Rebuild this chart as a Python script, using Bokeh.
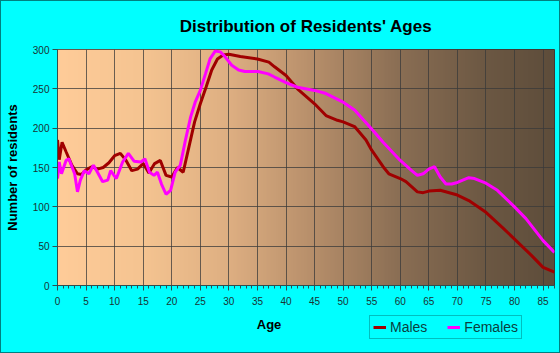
import numpy as np
from bokeh.plotting import figure
from bokeh.layouts import column
from bokeh.models import (Range1d, Legend, LegendItem, SingleIntervalTicker)
from bokeh.core.properties import value
from bokeh.embed import file_html
from bokeh.resources import INLINE

# ---- data ----
male_age = [0, 0.3, 0.8, 1.5, 2.5, 3.5, 4.2, 5, 6, 7, 8, 9, 10, 11, 12, 13, 14, 15, 16, 17, 18, 19, 20,
            21, 22, 23, 24, 25, 26, 27, 28, 29, 30, 32, 35, 37, 38, 40, 42, 45, 47, 49, 50, 52, 54, 55,
            57, 58, 60, 61, 63, 64, 65, 67, 70, 72, 75, 78, 80, 83, 85, 87]
male_val = [185, 160, 182, 170, 153, 142, 141, 147, 151, 148, 150, 156, 165, 168, 159, 146, 148, 155, 143,
            155, 159, 140, 138, 150, 144, 176, 208, 231, 252, 274, 288, 293, 294, 291, 288, 284, 278, 267,
            250, 231, 216, 210, 208, 202, 185, 172, 151, 142, 136, 132, 119, 118, 120, 121, 115, 108, 93,
            73, 59, 38, 23, 17]

female_age = [0, 0.3, 0.7, 1.5, 2, 3, 3.5, 4, 4.7, 5.5, 6.3, 7, 7.9, 8.8, 9.3, 10.3, 11.4, 12.4, 13.4,
              14.6, 15.3, 16.1, 16.9, 17.5, 18.2, 19, 19.8, 20.6, 21.5, 22.4, 23.3, 24.1, 25, 25.9, 26.7,
              27.6, 28.5, 29.3, 30.5, 31.7, 32.8, 35.1, 36.9, 38, 40, 42, 45, 47, 50, 52, 55, 57, 60, 62,
              63, 64, 65, 66, 67, 68, 69, 70, 72, 73, 75, 77, 80, 82, 85, 87]
female_val = [136, 157, 142, 159, 161, 142, 119, 134, 146, 142, 153, 144, 132, 134, 146, 136, 157, 168, 158,
              157, 161, 144, 140, 144, 129, 116, 121, 144, 153, 185, 214, 233, 248, 269, 288, 298, 297, 291,
              280, 274, 272, 272, 269, 265, 258, 252, 248, 244, 233, 223, 199, 182, 159, 146, 140, 142, 148,
              151, 138, 129, 129, 131, 137, 136, 130, 121, 100, 85, 57, 42]

x_ticks = list(range(0, 90, 5))
y_ticks = list(range(0, 350, 50))
title_text = "Distribution of Residents' Ages"
x_label = "Age"
y_label = "Number of residents"
series_names = ["Males", "Females"]
series_colors = ["#A00000", "#FF00FF"]

FONT = "Liberation Sans"
CYAN = "#00FFFF"

p = figure(width=558, height=309, output_backend="svg", toolbar_location=None,
           x_range=Range1d(0, 87), y_range=Range1d(0, 300),
           min_border_left=54, min_border_right=5, min_border_top=48, min_border_bottom=25)
p.background_fill_color = "#FFCC99"
p.border_fill_color = CYAN
p.outline_line_color = "#333333"

p.title.text = title_text
p.title.align = "center"
p.title.text_font = FONT
p.title.text_font_size = "17px"
p.title.text_font_style = "bold"
p.title.text_color = "#000000"
p.title.standoff = 27

# gradient background (style only)
stops_x = [0, 15, 30, 45, 60, 75, 87]
stops_c = np.array([(255, 204, 153), (245, 196, 145), (222, 175, 130), (182, 142, 106),
                    (138, 110, 84), (108, 88, 67), (94, 77, 59)], dtype=float)
N = 348
xs = np.linspace(0, 87, N)
img = np.empty((1, N), dtype=np.uint32)
view = img.view(dtype=np.uint8).reshape((1, N, 4))
for ch in range(3):
    view[0, :, ch] = np.interp(xs, stops_x, stops_c[:, ch]).astype(np.uint8)
view[0, :, 3] = 255
p.image_rgba(image=[img], x=0, y=0, dw=87, dh=300, level="image")

# grid
p.xgrid.ticker = x_ticks
p.ygrid.ticker = y_ticks
for g in (p.xgrid, p.ygrid):
    g.grid_line_color = "#3a3a3a"
    g.grid_line_alpha = 0.75
    g.grid_line_width = 1
    g.level = "underlay"

# axes
p.xaxis.ticker = SingleIntervalTicker(interval=5, num_minor_ticks=5)
p.yaxis.ticker = y_ticks
for ax in (p.xaxis, p.yaxis):
    ax.axis_line_color = "#2F4F4F"
    ax.major_tick_line_color = "#2F4F4F"
    ax.minor_tick_line_color = "#2F4F4F"
    ax.major_label_text_font = FONT
    ax.major_label_text_font_size = "10px"
    ax.major_label_text_color = "#1A3333"
    ax.axis_label_text_font = FONT
    ax.axis_label_text_font_size = "13px"
    ax.axis_label_text_font_style = "bold"
    ax.axis_label_text_color = "#000000"
p.xaxis.major_tick_out = 5
p.xaxis.major_tick_in = 0
p.xaxis.minor_tick_out = 3
p.xaxis.minor_tick_in = 0
p.yaxis.major_tick_out = 5
p.yaxis.major_tick_in = 0
p.yaxis.minor_tick_line_color = None
p.yaxis.axis_label = y_label
p.xaxis.major_label_standoff = 6
p.yaxis.major_label_standoff = 3
p.yaxis.axis_label_standoff = 10

# lines
p.line(male_age, male_val, line_color=series_colors[0], line_width=3)
p.line(female_age, female_val, line_color=series_colors[1], line_width=3)

# bottom strip with axis title and legend (its frame is aligned to the main frame: page x 55..553)
p2 = figure(width=558, height=42, output_backend="svg", toolbar_location=None,
            x_range=Range1d(55, 553), y_range=Range1d(0, 42),
            min_border=0, x_axis_location=None, y_axis_location=None)
p2.background_fill_color = CYAN
p2.border_fill_color = CYAN
p2.outline_line_color = None
p2.xgrid.visible = False
p2.ygrid.visible = False
p2.text(x=[267], y=[28], text=[x_label], text_font=value(FONT), text_font_size="13px",
        text_font_style="bold", text_color="#000000", text_align="center", text_baseline="middle")
# legend proxies, drawn outside the visible range
lm = p2.line([-10, -5], [-10, -10], line_color=series_colors[0], line_width=3)
lf = p2.line([-10, -5], [-10, -10], line_color=series_colors[1], line_width=3)
legend = Legend(items=[LegendItem(label=series_names[0], renderers=[lm]),
                       LegendItem(label=series_names[1], renderers=[lf])],
                location=(312, 13), orientation="horizontal")
legend.label_text_font = FONT
legend.label_text_font_size = "14px"
legend.label_text_color = "#0B3F3F"
legend.border_line_color = "#008080"
legend.border_line_width = 1
legend.background_fill_color = CYAN
legend.background_fill_alpha = 1
legend.glyph_width = 13
legend.glyph_height = 12
legend.spacing = 20
legend.padding = 3
legend.margin = 0
legend.label_standoff = 4
p2.add_layout(legend, "center")

layout = column(p, p2, spacing=0,
                styles={"border": "1px solid #008080", "background-color": CYAN})

open("out.html", "w").write(file_html(layout, INLINE))
